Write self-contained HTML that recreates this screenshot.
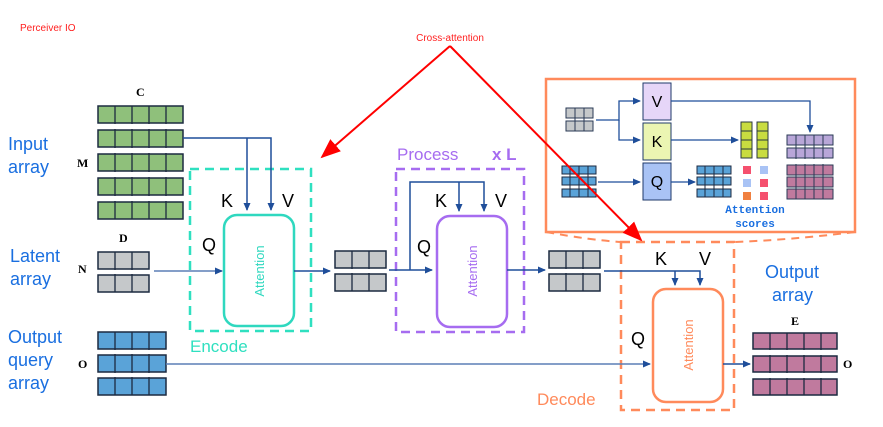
<!DOCTYPE html>
<html><head><meta charset="utf-8"><style>html,body{margin:0;padding:0;background:#fff}svg{display:block}</style></head>
<body>
<svg width="883" height="427" viewBox="0 0 883 427" xmlns="http://www.w3.org/2000/svg" font-family="Liberation Sans, sans-serif">
<defs>
<marker id="a" markerWidth="8" markerHeight="8" refX="7" refY="4" orient="auto" markerUnits="userSpaceOnUse"><path d="M0,0.5 L8,4 L0,7.5z" fill="#1f4e9a"/></marker>
<marker id="r" markerWidth="20" markerHeight="20" refX="18" refY="10" orient="auto" markerUnits="userSpaceOnUse"><path d="M0,2 L20,10 L0,18z" fill="#ff0000"/></marker>
<pattern id="g17" width="17" height="17" patternUnits="userSpaceOnUse"><rect width="17" height="17" fill="none" stroke="#1c2a40" stroke-width="1.5"/></pattern>
</defs>
<text x="20" y="31" font-size="10" fill="#ff2020">Perceiver IO</text>
<text x="450" y="41" font-size="10" fill="#ff2020" text-anchor="middle">Cross-attention</text>

<g fill="#1a6fe0" font-size="18">
<text x="8" y="150">Input</text><text x="8" y="173">array</text>
<text x="10" y="262">Latent</text><text x="10" y="285">array</text>
<text x="8" y="343">Output</text><text x="8" y="366">query</text><text x="8" y="389">array</text>
<text x="765" y="278">Output</text><text x="772" y="301">array</text>
</g>
<g font-family="Liberation Serif, serif" font-weight="bold" font-size="12" fill="#000">
<text x="136" y="96">C</text><text x="77" y="167">M</text><text x="119" y="242">D</text><text x="78" y="273">N</text><text x="78" y="368">O</text>
<text x="791" y="325">E</text><text x="843" y="368">O</text>
</g>

<!-- arrays -->
<g stroke="#1c2a40" stroke-width="1.5">
<g fill="#8fc07b">
<rect x="98" y="106" width="85" height="17"/><rect x="98" y="130" width="85" height="17"/><rect x="98" y="154" width="85" height="17"/><rect x="98" y="178" width="85" height="17"/><rect x="98" y="202" width="85" height="17"/>
</g>
<g fill="#c5c8ca">
<rect x="98" y="252" width="51" height="17"/><rect x="98" y="275" width="51" height="17"/>
<rect x="335" y="251" width="51" height="17"/><rect x="335" y="274" width="51" height="17"/>
<rect x="549" y="251" width="51" height="17"/><rect x="549" y="274" width="51" height="17"/>
</g>
<g fill="#5aa3d8">
<rect x="98" y="332" width="68" height="17"/><rect x="98" y="355" width="68" height="17"/><rect x="98" y="378" width="68" height="17"/>
</g>
<g fill="#c07a9e">
<rect x="753" y="333" width="84" height="16"/><rect x="753" y="356" width="84" height="16"/><rect x="753" y="379" width="84" height="16"/>
</g>
</g>
<!-- cell dividers -->
<g stroke="#1c2a40" stroke-width="1.3">
<path d="M115,106v113M132,106v113M149,106v113M166,106v113"/>
<path d="M115,252v40M132,252v40M352,251v40M369,251v40M566,251v40M583,251v40"/>
<path d="M115,332v63M132,332v63M149,332v63"/>
<path d="M770,333v62M787,333v62M804,333v62M821,333v62"/>
</g>
<!-- white gaps between rows -->
<g fill="#fff">
<rect x="97" y="124" width="88" height="5"/><rect x="97" y="148" width="88" height="5"/><rect x="97" y="172" width="88" height="5"/><rect x="97" y="196" width="88" height="5"/>
<rect x="97" y="270" width="54" height="4"/><rect x="334" y="269" width="54" height="4"/><rect x="548" y="269" width="54" height="4"/>
<rect x="97" y="350" width="71" height="4"/><rect x="97" y="373" width="71" height="4"/>
<rect x="752" y="350" width="87" height="5"/><rect x="752" y="373" width="87" height="5"/>
</g>

<!-- Encode -->
<rect x="190" y="169" width="121" height="162" fill="none" stroke="#2fe0c0" stroke-width="2.5" stroke-dasharray="9,6"/>
<rect x="224" y="215" width="70" height="111" rx="13" fill="#fff" stroke="#2fd8bf" stroke-width="2.5"/>
<text transform="translate(264,271) rotate(-90)" text-anchor="middle" font-size="13" fill="#2fd8bf">Attention</text>
<text x="190" y="352" font-size="17" fill="#2fe0c0">Encode</text>
<g font-size="18" fill="#000"><text x="221" y="207">K</text><text x="282" y="207">V</text><text x="202" y="251">Q</text></g>
<g stroke="#1f4e9a" stroke-width="1.5" fill="none">
<path d="M183,138H271V210" marker-end="url(#a)"/><path d="M247,138V210" marker-end="url(#a)"/>
<path d="M154,271H222" marker-end="url(#a)" stroke="#5b7fb5"/>
<path d="M294,271H330" marker-end="url(#a)"/>
</g>

<!-- Process -->
<rect x="396" y="169" width="128" height="163" fill="none" stroke="#a66cf0" stroke-width="2.5" stroke-dasharray="9,6"/>
<rect x="437" y="216" width="70" height="111" rx="13" fill="#fff" stroke="#a66cf0" stroke-width="2.5"/>
<text transform="translate(477,271) rotate(-90)" text-anchor="middle" font-size="13" fill="#a66cf0">Attention</text>
<text x="397" y="160" font-size="17" fill="#a66cf0">Process</text>
<text x="492" y="160" font-size="17" font-weight="bold" fill="#a66cf0">x L</text>
<g font-size="18" fill="#000"><text x="435" y="207">K</text><text x="495" y="207">V</text><text x="417" y="253">Q</text></g>
<g stroke="#1f4e9a" stroke-width="1.5" fill="none">
<path d="M389,270H432" marker-end="url(#a)"/>
<path d="M410,270V182H484V211" marker-end="url(#a)"/><path d="M459,182V211" marker-end="url(#a)"/>
<path d="M507,270H545" marker-end="url(#a)"/>
</g>

<!-- Inset connectors -->
<path d="M546,232 Q590,240 621,242 M855,232 Q790,240 734,242" fill="none" stroke="#ff8a5b" stroke-width="2" stroke-dasharray="8,6"/>

<!-- Decode -->
<rect x="621" y="242" width="113" height="168" fill="none" stroke="#ff8a5b" stroke-width="2.5" stroke-dasharray="9,6"/>
<rect x="653" y="289" width="70" height="113" rx="13" fill="#fff" stroke="#ff8a5b" stroke-width="2.5"/>
<text transform="translate(693,345) rotate(-90)" text-anchor="middle" font-size="13" fill="#ff8a5b">Attention</text>
<text x="537" y="405" font-size="17" fill="#ff8a5b">Decode</text>
<g font-size="18" fill="#000"><text x="655" y="265">K</text><text x="699" y="265">V</text><text x="631" y="345">Q</text></g>
<g stroke="#1f4e9a" stroke-width="1.5" fill="none">
<path d="M604,271H700V285" marker-end="url(#a)"/><path d="M675,271V285" marker-end="url(#a)"/>
<path d="M166,364H650" marker-end="url(#a)" stroke="#5b7fb5"/>
<path d="M723,364H750" marker-end="url(#a)"/>
</g>

<!-- Inset -->
<rect x="546" y="79" width="309" height="153" fill="#fff" stroke="#ff8a5b" stroke-width="2.5"/>
<g stroke="#2a3a55" stroke-width="1" fill="#c5c8ca">
<rect x="566" y="108" width="27" height="10"/><rect x="566" y="121" width="27" height="10"/>
</g>
<path d="M575,108v23M584,108v23" stroke="#2a3a55"/>
<g stroke="#1f3a6a" stroke-width="1">
<rect x="643" y="83" width="28" height="37" fill="#e6d6f8"/>
<rect x="643" y="123" width="28" height="37" fill="#ebf5b2"/>
<rect x="643" y="163" width="28" height="37" fill="#a9c3f5"/>
</g>
<g font-size="16" fill="#000" text-anchor="middle"><text x="657" y="107">V</text><text x="657" y="147">K</text><text x="657" y="187">Q</text></g>
<g fill="#5aa3d8" stroke="#1c2a40" stroke-width="1">
<rect x="562" y="166" width="34" height="8"/><rect x="562" y="177" width="34" height="8"/><rect x="562" y="189" width="34" height="8"/>
<rect x="697" y="166" width="34" height="8"/><rect x="697" y="177" width="34" height="8"/><rect x="697" y="189" width="34" height="8"/>
</g>
<path d="M570,166v31M579,166v31M588,166v31M705,166v31M714,166v31M723,166v31" stroke="#1c2a40"/>
<g fill="#c8dc40" stroke="#2a3a40" stroke-width="1">
<rect x="741" y="122" width="11" height="36"/><rect x="757" y="122" width="11" height="36"/>
</g>
<path d="M741,131h11M741,140h11M741,149h11M757,131h11M757,140h11M757,149h11" stroke="#2a3a40"/>
<g>
<rect x="743" y="166" width="8" height="8" fill="#f5506e"/><rect x="760" y="166" width="8" height="8" fill="#a9c3f5"/>
<rect x="743" y="179" width="8" height="8" fill="#a9c3f5"/><rect x="760" y="179" width="8" height="8" fill="#f5506e"/>
<rect x="743" y="192" width="8" height="8" fill="#f08040"/><rect x="760" y="192" width="8" height="8" fill="#f5506e"/>
</g>
<g stroke="#2a3a55" stroke-width="1">
<rect x="787" y="135" width="46" height="10" fill="#b8a6d8"/><rect x="787" y="148" width="46" height="10" fill="#b8a6d8"/>
<rect x="787" y="165" width="46" height="10" fill="#c07a9e"/><rect x="787" y="177" width="46" height="10" fill="#c07a9e"/><rect x="787" y="189" width="46" height="10" fill="#c07a9e"/>
</g>
<path d="M796,135v64M805,135v64M814,135v64M823,135v64" stroke="#2a3a55"/>
<rect x="786" y="159" width="48" height="5" fill="#fff"/>
<g stroke="#1f4e9a" stroke-width="1.3" fill="none">
<path d="M596,120H619V101H640" marker-end="url(#a)"/><path d="M619,120V140H640" marker-end="url(#a)"/>
<path d="M598,182H640" marker-end="url(#a)"/>
<path d="M671,182H695" marker-end="url(#a)"/>
<path d="M671,140H738" marker-end="url(#a)"/>
<path d="M671,101H810V132" marker-end="url(#a)"/>
</g>
<g font-family="Liberation Mono, monospace" font-weight="bold" font-size="11" fill="#1a6fe0" text-anchor="middle">
<text x="755" y="213">Attention</text><text x="755" y="227">scores</text>
</g>

<!-- red arrows -->
<g stroke="#ff0000" stroke-width="2" fill="none">
<path d="M450,46L322,157" marker-end="url(#r)"/>
<path d="M450,46L641,240" marker-end="url(#r)"/>
</g>
</svg>
</body></html>
